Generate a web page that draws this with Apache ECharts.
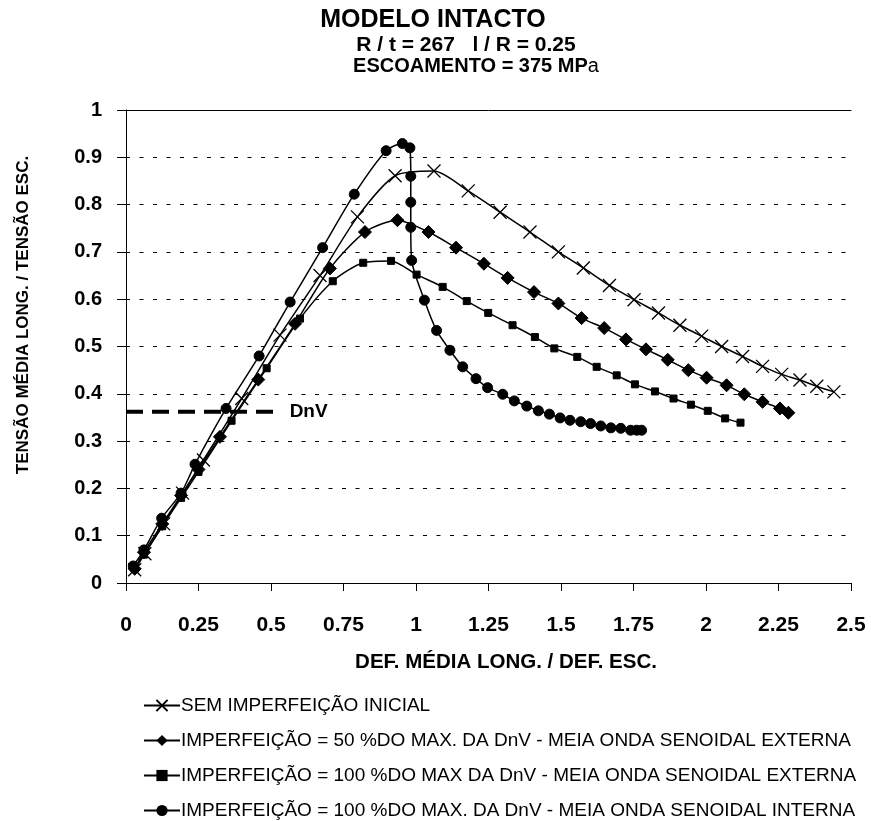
<!DOCTYPE html>
<html>
<head>
<meta charset="utf-8">
<script src="https://cdn.jsdelivr.net/npm/echarts@6/dist/echarts.min.js"></script>
<style>html,body{margin:0;padding:0;background:#fff}#c{width:871px;height:821px}</style>
</head>
<body>
<div id="c"></div>
<script>
// ---- data ----
var seriesNames = [
  'SEM IMPERFEIÇÃO INICIAL',
  'IMPERFEIÇÃO = 50 %DO MAX. DA DnV - MEIA ONDA SENOIDAL EXTERNA',
  'IMPERFEIÇÃO = 100 %DO MAX DA DnV - MEIA ONDA SENOIDAL EXTERNA',
  'IMPERFEIÇÃO = 100 %DO MAX. DA DnV - MEIA ONDA SENOIDAL INTERNA'
];
var semX = [0.03,0.065,0.13,0.195,0.267,0.399,0.531,0.669,0.798,0.928,1.062,1.18,1.29,1.393,1.491,1.577,1.667,1.752,1.836,1.91,1.985,2.054,2.126,2.195,2.261,2.324,2.382,2.441];
var semY = [0.028,0.062,0.125,0.19,0.26,0.39,0.524,0.65,0.774,0.861,0.871,0.829,0.784,0.742,0.700,0.666,0.629,0.599,0.571,0.545,0.522,0.500,0.479,0.458,0.441,0.429,0.416,0.404];
var ext50X = [0.03,0.062,0.125,0.19,0.25,0.324,0.456,0.583,0.703,0.824,0.936,1.043,1.138,1.234,1.316,1.407,1.491,1.571,1.649,1.724,1.793,1.868,1.939,2.002,2.071,2.132,2.195,2.255,2.284];
var ext50Y = [0.03,0.065,0.125,0.185,0.24,0.309,0.43,0.548,0.665,0.742,0.767,0.742,0.709,0.675,0.645,0.615,0.591,0.56,0.539,0.515,0.494,0.472,0.45,0.434,0.418,0.399,0.383,0.369,0.36];
var ext100X = [0.03,0.062,0.125,0.19,0.25,0.364,0.485,0.6,0.713,0.818,0.914,1.002,1.092,1.175,1.249,1.333,1.41,1.477,1.556,1.623,1.692,1.755,1.824,1.888,1.948,2.006,2.066,2.119];
var ext100Y = [0.03,0.06,0.12,0.18,0.235,0.343,0.454,0.559,0.638,0.677,0.681,0.652,0.626,0.596,0.571,0.545,0.520,0.496,0.478,0.457,0.439,0.420,0.405,0.390,0.377,0.364,0.348,0.339];
var int100X = [0.025,0.062,0.123,0.19,0.238,0.345,0.459,0.566,0.678,0.787,0.897,0.953,0.979,0.982,0.982,0.982,0.985,1.029,1.071,1.117,1.161,1.207,1.247,1.299,1.339,1.382,1.422,1.46,1.497,1.531,1.568,1.602,1.637,1.672,1.706,1.74,1.761,1.778];
var int100Y = [0.036,0.07,0.137,0.19,0.251,0.369,0.48,0.594,0.709,0.822,0.914,0.929,0.92,0.86,0.805,0.752,0.682,0.598,0.534,0.492,0.457,0.432,0.413,0.399,0.385,0.374,0.364,0.357,0.349,0.344,0.341,0.337,0.332,0.328,0.327,0.323,0.323,0.323];
var dnvX = [0, 0.516];
var dnvY = [0.362, 0.362];
var dnvLabel = 'DnV';
var xTicks = ['0','0.25','0.5','0.75','1','1.25','1.5','1.75','2','2.25','2.5'];
var yTicks = ['0','0.1','0.2','0.3','0.4','0.5','0.6','0.7','0.8','0.9','1'];
var titleMain = 'MODELO INTACTO';
var titleSub1 = 'R / t = 267   l / R = 0.25';
var titleSub2a = 'ESCOAMENTO = 375 MP';
var titleSub2b = 'a';
var xName = 'DEF. MÉDIA LONG. / DEF. ESC.';
var yName = 'TENSÃO MÉDIA LONG. / TENSÃO ESC.';

function pairs(xs, ys){ return xs.map(function(x,i){ return [x, ys[i]]; }); }
var FONT = '"Liberation Sans", Arial, sans-serif';

var chart = echarts.init(document.getElementById('c'), null, {renderer:'canvas'});
var lineBase = {type:'line', smooth:0.25, lineStyle:{color:'#000', width:1.5}, itemStyle:{color:'#000', borderColor:'#000'}, emphasis:{disabled:true}, animation:false};

chart.setOption({
  animation:false,
  backgroundColor:'#fff',
  grid:{left:126, right:20, top:110, bottom:238, containLabel:false},
  xAxis:[{
    type:'value', min:0, max:2.5, interval:0.25,
    axisLine:{show:true, onZero:false, lineStyle:{color:'#000', width:1}},
    axisTick:{show:true, length:8, lineStyle:{color:'#000'}},
    axisLabel:{margin:32, color:'#000', fontFamily:FONT, fontWeight:'bold', fontSize:21,
      formatter:function(v){ var i=Math.round(v/0.25); return xTicks[i]; }},
    splitLine:{show:false}
  },{
    type:'value', min:0, max:2.5, position:'top',
    axisLine:{show:true, onZero:false, lineStyle:{color:'#000', width:1}},
    axisTick:{show:false}, axisLabel:{show:false}, splitLine:{show:false}
  }],
  yAxis:{
    type:'value', min:0, max:1, interval:0.1,
    axisLine:{show:true, onZero:false, lineStyle:{color:'#000', width:1}},
    axisTick:{show:true, length:9, lineStyle:{color:'#000'}},
    axisLabel:{margin:24, color:'#000', fontFamily:FONT, fontWeight:'bold', fontSize:20,
      formatter:function(v){ var i=Math.round(v/0.1); return yTicks[i]; }},
    splitLine:{show:true, lineStyle:{color:'#000', width:1, type:[4,9.5]}}
  },
  legend:{
    orient:'vertical', left:143, top:696, padding:0, itemGap:16, itemWidth:36, itemHeight:14,
    textStyle:{fontFamily:FONT, fontSize:19, color:'#000', padding:[0,0,0,-4]},
    selectedMode:false,
    data:seriesNames
  },
  graphic:[
    {type:'text', x:433, y:20, style:{text:titleMain, font:'bold 25px '+FONT, fill:'#000', align:'center', verticalAlign:'middle'}},
    {type:'text', x:466, y:45, style:{text:titleSub1, font:'bold 21px '+FONT, fill:'#000', align:'center', verticalAlign:'middle'}},
    {type:'text', x:476, y:66, style:{text:'{b|'+titleSub2a+'}{n|'+titleSub2b+'}', align:'center', verticalAlign:'middle',
      rich:{b:{fontFamily:FONT, fontWeight:'bold', fontSize:20, fill:'#000'}, n:{fontFamily:FONT, fontSize:20, fill:'#000'}}}},
    {type:'text', x:506, y:662, style:{text:xName, font:'bold 20.5px '+FONT, fill:'#000', align:'center', verticalAlign:'middle'}},
    {type:'text', x:23, y:315, rotation:Math.PI/2, style:{text:yName, font:'bold 17px '+FONT, fill:'#000', align:'center', verticalAlign:'middle'}}
  ],
  series:[
    Object.assign({}, lineBase, {name:seriesNames[0], data:pairs(semX, semY), symbol:'path://M0,0L10,10M10,0L0,10', symbolSize:13, itemStyle:{color:'#000', borderColor:'#000', borderWidth:1.3}}),
    Object.assign({}, lineBase, {name:seriesNames[1], data:pairs(ext50X, ext50Y), symbol:'diamond', symbolSize:13}),
    Object.assign({}, lineBase, {name:seriesNames[2], data:pairs(ext100X, ext100Y), symbol:'rect', symbolSize:7}),
    Object.assign({}, lineBase, {name:seriesNames[3], data:pairs(int100X, int100Y), symbol:'circle', symbolSize:10}),
    {type:'line', name:'DnV', data:pairs(dnvX, dnvY), symbol:'none', silent:true, animation:false,
      lineStyle:{color:'#000', width:4, type:[17,9]},
      endLabel:{show:true, formatter:dnvLabel, distance:14, color:'#000', fontFamily:FONT, fontWeight:'bold', fontSize:19}}
  ]
});
</script>
</body>
</html>
